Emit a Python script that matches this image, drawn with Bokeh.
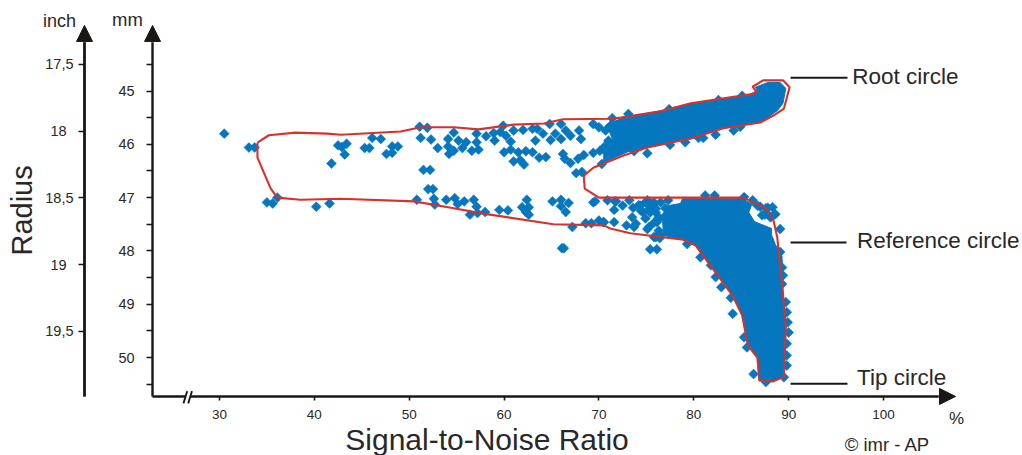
import math
from bokeh.embed import file_html
from bokeh.resources import INLINE
from bokeh.plotting import figure
from bokeh.models import (Range1d, LinearAxis, FixedTicker, Label, Arrow, NormalHead)

# Envelope drawn round the measurements: SNR in %, radius in mm
envelope_snr = [34.0,35.2,38.0,41.4,42.8,49.1,51.2,54.7,57.3,61.0,64.2,66.2,71.5,72.3,76.5,79.7,86.3,86.6,86.2,87.3,89.4,90.1,89.5,88.4,87.0,83.1,79.7,75.1,72.6,69.4,68.4,68.5,70.0,85.2,87.6,88.4,88.8,89.4,89.7,89.5,88.3,86.9,86.7,85.7,85.1,84.1,80.2,78.9,73.3,71.2,70.5,65.2,57.8,54.4,50.5,42.8,38.5,36.1,35.4,34.0]
envelope_mm = [45.97,45.83,45.78,45.80,45.82,45.76,45.68,45.68,45.72,45.63,45.61,45.53,45.52,45.50,45.38,45.23,45.05,45.01,44.92,44.80,44.80,44.93,45.33,45.46,45.59,45.70,45.89,46.06,46.21,46.44,46.59,46.83,47.00,47.00,47.20,47.43,47.75,48.80,49.44,50.36,50.45,50.43,50.00,49.77,49.21,48.84,47.90,47.79,47.67,47.58,47.52,47.50,47.30,47.19,47.07,47.02,47.04,47.00,46.83,46.25]

# Saturated masses where single points cannot be told apart: outlines
root_mass_snr = [70.5,71.4,70.8,72.6,76.5,79.7,85.7,86.7,86.5,87.8,89.1,89.7,89.4,88.8,87.0,83.1,79.7,75.1,73.3,70.5]
root_mass_mm = [46.21,45.89,45.63,45.50,45.37,45.23,45.08,44.99,44.93,44.84,44.84,44.95,45.23,45.37,45.59,45.70,45.89,46.06,46.12,46.34]
flank_mass_snr = [76.8,76.7,77.3,78.6,78.8,85.2,86.1,85.8,86.4,88.2,88.2,88.6,89.3,89.4,89.7,89.5,88.3,86.9,86.7,85.7,85.1,84.1,80.2,78.9]
flank_mass_mm = [47.71,47.39,47.15,47.11,47.02,47.02,47.13,47.28,47.45,47.58,47.70,47.88,48.10,48.80,49.44,50.36,50.45,50.43,50.00,49.77,49.21,48.84,47.90,47.79]

# Individually visible measurements (SNR %, radius mm)
point_snr = [30.5,33.1,33.7,42.5,41.8,35.0,35.6,36.1,40.2,41.6,
 43.4,42.9,43.2,46.1,47.0,45.3,45.8,47.6,48.2,48.2,48.8,51.1,51.9,51.2,52.3,53.0,54.7,54.1,55.2,56.0,54.1,54.7,54.2,55.6,56.6,57.3,57.1,57.1,58.1,58.9,59.0,59.9,59.6,60.2,60.7,61.0,62.0,63.0,63.5,64.1,63.3,64.9,65.4,66.0,64.8,66.0,66.5,67.0,67.9,68.1,69.4,70.0,60.0,60.7,61.5,62.3,63.0,61.0,61.7,62.1,63.7,64.4,66.2,66.4,67.0,67.8,68.4,69.4,67.6,68.2,51.5,52.2,52.0,52.5,
 50.8,52.6,52.7,53.9,54.8,55.1,55.8,56.8,57.1,56.4,57.2,58.0,59.5,60.4,62.4,61.9,62.6,62.3,62.6,65.1,66.0,66.0,66.8,66.5,67.2,68.6,69.2,69.4,69.6,70.0,70.5,70.9,71.7,71.6,71.6,73.2,73.5,72.9,73.7,74.2,74.9,74.6,75.3,75.3,76.1,75.8,76.4,75.4,76.1,66.1,66.3,
 71.8,70.5,73.9,74.4,75.1,75.8,76.0,75.1,76.3,76.0,79.3,80.7,81.8,82.3,82.9,83.9,84.1,85.3,85.6,86.3,81.2,82.2,85.3,88.3,88.6,89.1,89.1,89.3,89.4,89.3,89.7,89.8,89.9,90.0,89.8,89.8,89.8,89.5,87.6,
 70.3,71.4,73.1,75.1,77.5,79.1,80.5,81.0,82.3,84.2,84.9,77.4,82.6,85.1,71.0,70.7,73.7,70.7,
 75.1,75.8,76.5,74.9,76.3,77.0,77.3,75.8,76.3,87.8,87.9,87.2,86.7,
 87.0,87.5,88.1,86.2,87.6,88.5,75.4,74.4,77.3,76.5,76.0,77.0,73.6,72.5,71.2,71.0,70.6,70.1,70.5]
point_mm = [45.80,46.06,46.06,46.02,46.36,47.09,47.11,47.00,47.17,47.11,
 45.99,46.05,46.19,45.88,45.90,46.07,46.07,46.18,46.16,46.04,46.04,45.67,45.69,45.88,45.91,46.07,45.78,45.90,45.93,45.96,46.04,46.12,46.18,46.07,46.12,46.10,45.96,45.80,45.85,45.79,45.93,45.65,45.77,45.84,45.95,45.74,45.73,45.71,45.71,45.80,45.93,45.92,45.80,45.90,45.62,45.62,45.74,45.84,45.74,45.90,45.62,45.68,46.15,46.10,46.15,46.13,46.15,46.32,46.30,46.38,46.25,46.24,46.18,46.27,46.35,46.27,46.20,46.16,46.54,46.52,46.48,46.48,46.84,46.84,
 47.04,47.02,47.13,47.04,47.01,47.12,47.07,47.04,47.17,47.32,47.29,47.27,47.23,47.24,47.04,47.18,47.18,47.27,47.32,47.07,47.04,47.16,47.10,47.27,47.55,47.48,47.48,47.09,47.07,47.43,47.46,47.05,47.07,47.23,47.46,47.05,47.37,47.52,47.55,47.14,47.09,47.27,47.21,47.55,47.46,47.74,47.76,47.97,47.97,47.95,47.95,
 47.07,47.46,47.49,47.15,47.09,47.12,47.21,47.59,47.40,47.74,47.87,48.12,48.27,48.49,48.68,48.88,49.18,49.62,49.81,50.31,46.96,46.96,46.99,47.18,47.31,47.59,48.02,48.31,48.46,48.62,48.96,49.15,49.34,49.53,49.74,49.96,50.15,50.37,50.46,
 46.37,45.51,45.43,46.17,46.01,45.96,45.88,45.88,45.82,45.74,45.67,45.34,45.17,45.09,45.96,46.09,46.13,45.74,
 47.05,47.09,47.09,47.39,47.37,47.20,47.05,47.47,47.62,47.19,47.33,47.33,47.15,
 47.17,47.32,47.37,47.05,47.20,47.32,47.28,47.24,47.52,47.71,47.28,47.34,47.19,47.15,45.65,45.93,46.12,46.12,46.06]

# Tick labels
snr_ticks = [30, 40, 50, 60, 70, 80, 90, 100]
mm_ticks = [45, 46, 47, 48, 49, 50]
mm_minor_ticks = [44.5, 45.5, 46.5, 47.5, 48.5, 49.5, 50.5]
inch_half_ticks = [17.5, 18.5, 19.5]
inch_half_labels = ["17,5", "18,5", "19,5"]
inch_whole_ticks = [18, 19]
inch_whole_labels = ["18", "19"]

BLUE = "#0477BF"
RED = "#D5322E"
INK = "#1A1715"
TEXT = "#2A2826"
FONT = "Liberation Sans"

p = figure(width=1022, height=455, output_backend="svg", toolbar_location=None,
           x_axis_type=None, y_axis_type=None,
           x_range=Range1d(6.913, 114.65), y_range=Range1d(51.838, 43.302),
           min_border=0, outline_line_color=None)
p.extra_y_ranges = {"inch": Range1d(20.429, 17.021)}

X_AXIS_AT = 50.73
MM_AXIS_AT = 22.94
INCH_AXIS_AT = 15.77


def style(ax, size):
    ax.axis_line_color = INK
    ax.axis_line_width = 2.4
    ax.major_tick_line_color = INK
    ax.major_tick_line_width = 1.6
    ax.minor_tick_line_color = INK
    ax.minor_tick_line_width = 1.6
    ax.major_tick_in = 0
    ax.minor_tick_in = 0
    ax.major_label_text_font = FONT
    ax.major_label_text_font_size = size
    ax.major_label_text_color = TEXT


x_axis = LinearAxis(ticker=FixedTicker(ticks=snr_ticks), fixed_location=X_AXIS_AT, bounds=(MM_AXIS_AT, 105.8))
style(x_axis, "13.5px")
x_axis.major_tick_out = 4
x_axis.minor_tick_out = 0
x_axis.major_label_standoff = 10
p.add_layout(x_axis, "below")

mm_axis = LinearAxis(ticker=FixedTicker(ticks=mm_ticks, minor_ticks=mm_minor_ticks),
                     fixed_location=MM_AXIS_AT, bounds=(44.09, X_AXIS_AT))
style(mm_axis, "14.5px")
mm_axis.major_tick_out = 6
mm_axis.minor_tick_out = 6
mm_axis.major_label_standoff = 12
mm_axis.major_label_orientation = "horizontal"
p.add_layout(mm_axis, "left")

# The inch scale centres its labels, so the half and whole inches sit at different standoffs
for ticks, labels, standoff in [(inch_half_ticks, inch_half_labels, 5),
                                (inch_whole_ticks, inch_whole_labels, 12)]:
    inch_axis = LinearAxis(y_range_name="inch", ticker=FixedTicker(ticks=ticks),
                           fixed_location=INCH_AXIS_AT, bounds=(17.335, 19.987),
                           major_label_overrides=dict(zip(ticks, labels)))
    style(inch_axis, "14.5px")
    inch_axis.major_tick_out = 6
    inch_axis.minor_tick_out = 0
    inch_axis.major_label_standoff = standoff
    inch_axis.major_label_orientation = "horizontal"
    p.add_layout(inch_axis, "left")

# Axis arrowheads
for xs, ys, xe, ye in [(MM_AXIS_AT, 44.09, MM_AXIS_AT, 43.77),
                       (INCH_AXIS_AT, 44.09, INCH_AXIS_AT, 43.77),
                       (105.8, X_AXIS_AT, 107.59, X_AXIS_AT)]:
    p.add_layout(Arrow(end=NormalHead(size=16, fill_color=INK, line_color=INK, line_width=1),
                       x_start=xs, y_start=ys, x_end=xe, y_end=ye,
                       line_color=INK, line_width=2.4))

# Axis break
p.segment([26.4], [X_AXIS_AT], [26.9], [X_AXIS_AT], line_color="white", line_width=4, level="overlay")
p.segment([26.2, 26.7], [50.86, 50.86], [26.6, 27.1], [50.63, 50.63], line_color=INK, line_width=1.8, level="overlay")

# Data
p.patch(root_mass_snr, root_mass_mm, fill_color=BLUE, line_color=BLUE, line_width=1)
p.patch(flank_mass_snr, flank_mass_mm, fill_color=BLUE, line_color=BLUE, line_width=1)
p.scatter(point_snr, point_mm, marker="square", angle=math.pi / 4, size=7,
          fill_color=BLUE, line_color=BLUE, line_width=0.5)
p.line(envelope_snr + envelope_snr[:1], envelope_mm + envelope_mm[:1], line_color=RED, line_width=2.1)

# Leader lines
p.segment([90.2, 90.2, 90.2], [44.75, 47.84, 50.49], [96.2, 96.1, 96.2], [44.75, 47.84, 50.49],
          line_color=INK, line_width=2)


def txt(x, y, s, size, align="left", angle=0.0):
    p.add_layout(Label(x=x, y=y, text=s, text_font=FONT, text_font_size=size, text_color=TEXT,
                       text_align=align, text_baseline="middle", angle=angle))


txt(96.7, 44.73, "Root circle", "22.5px")
txt(97.2, 47.80, "Reference circle", "22.5px")
txt(97.2, 50.37, "Tip circle", "22.5px")
txt(107.7, 51.14, "%", "17px", "center")
txt(95.9, 51.63, "© imr - AP", "18.5px")
txt(58.2, 51.54, "Signal-to-Noise Ratio", "30px", "center")
txt(9.23, 47.24, "Radius", "29px", "center", math.pi / 2)
txt(13.13, 43.68, "inch", "18px", "center")
txt(20.3, 43.66, "mm", "18.5px", "center")

open("out.html", "w").write(file_html(p, INLINE))
